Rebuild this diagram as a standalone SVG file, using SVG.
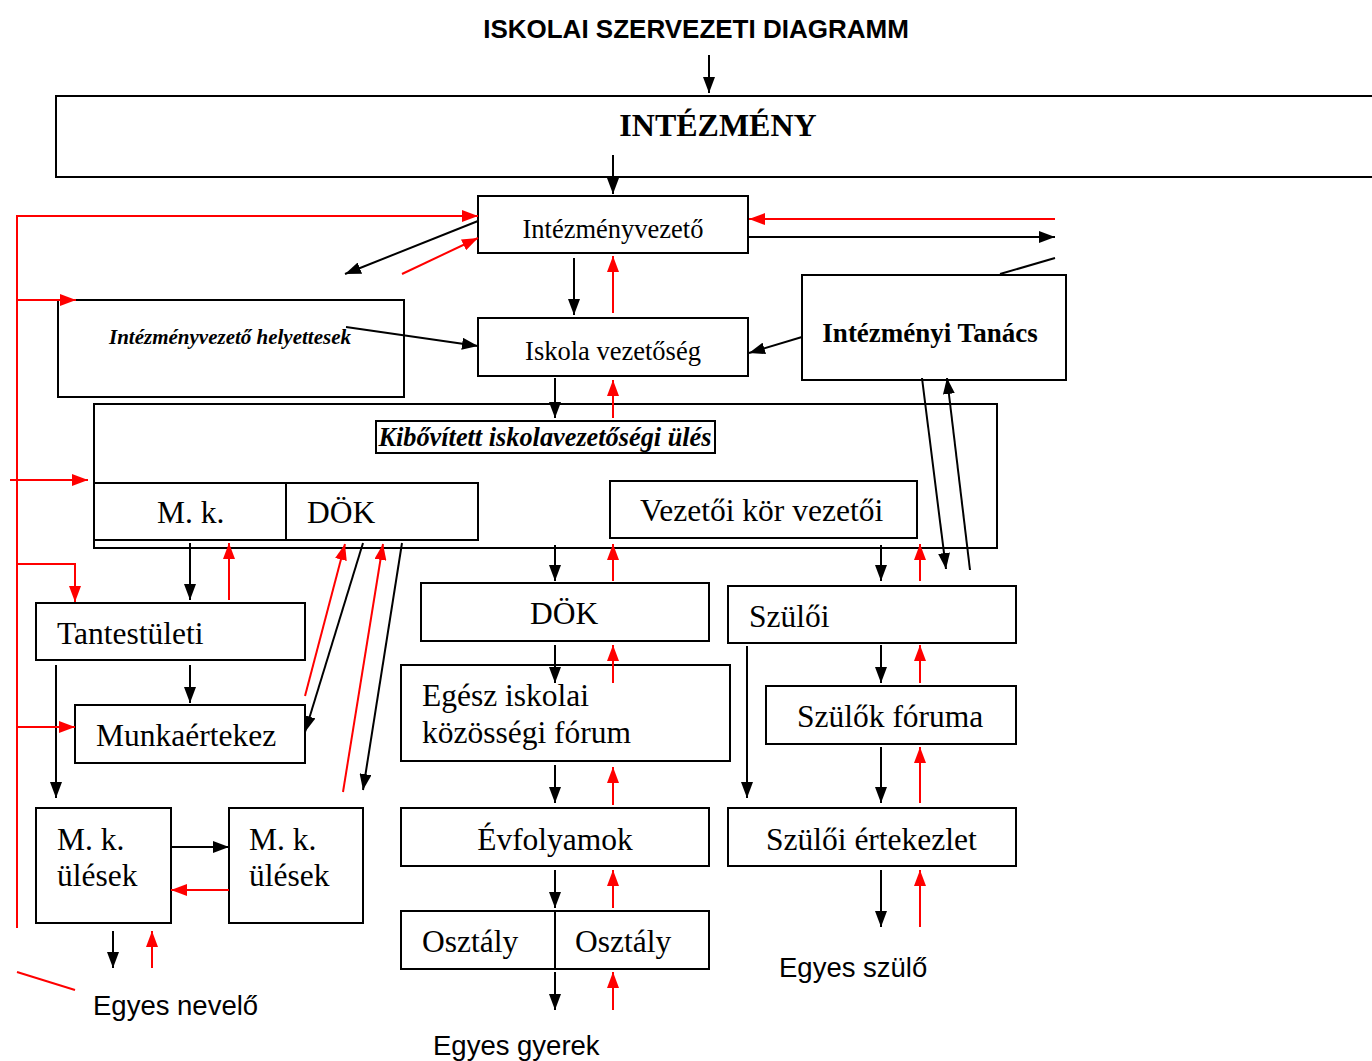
<svg xmlns="http://www.w3.org/2000/svg" width="1372" height="1061" viewBox="0 0 1372 1061">
<defs>
<style>
.box{fill:#fff;stroke:#000;stroke-width:2}
.t{font-family:"Liberation Serif","Times New Roman",serif;fill:#000}
.b{font-size:31.5px}
.s{font-family:"Liberation Sans",Arial,sans-serif;fill:#000;font-size:27.5px}
.k{stroke:#000;stroke-width:2;fill:none}
.r{stroke:#f00;stroke-width:2;fill:none}
.ka{stroke:#000;stroke-width:2;fill:none;marker-end:url(#mk)}
.ra{stroke:#f00;stroke-width:2;fill:none;marker-end:url(#mr)}
</style>
<marker id="mk" markerUnits="userSpaceOnUse" markerWidth="16" markerHeight="12" refX="16" refY="6" orient="auto"><path d="M0,0 L16,6 L0,12 z" fill="#000"/></marker>
<marker id="mr" markerUnits="userSpaceOnUse" markerWidth="16" markerHeight="12" refX="16" refY="6" orient="auto"><path d="M0,0 L16,6 L0,12 z" fill="#f00"/></marker>
</defs>
<rect width="1372" height="1061" fill="#fff"/>

<g id="title"><text class="s" x="696" y="38" font-size="26" font-weight="bold" text-anchor="middle" style="font-size:26px">ISKOLAI SZERVEZETI DIAGRAMM</text></g>

<g id="intezmeny"><rect class="box" x="56" y="96" width="1340" height="81"/><text class="t" x="718" y="136" font-size="32" font-weight="bold" text-anchor="middle">INTÉZMÉNY</text></g>

<g id="intezmenyvezeto"><rect class="box" x="478" y="196" width="270" height="57"/><text class="t" x="613" y="238" font-size="26.5" text-anchor="middle">Intézményvezető</text></g>

<g id="helyettesek"><rect class="box" x="58" y="300" width="346" height="97"/><text class="t" x="230" y="344" font-size="21" font-weight="bold" font-style="italic" text-anchor="middle">Intézményvezető helyettesek</text></g>

<g id="iskolavezetoseg"><rect class="box" x="478" y="318" width="270" height="58"/><text class="t" x="613" y="360" font-size="26.5" text-anchor="middle">Iskola vezetőség</text></g>

<g id="intezmenyi-tanacs"><rect class="box" x="802" y="275" width="264" height="105"/><text class="t" x="930" y="342" font-size="27" font-weight="bold" text-anchor="middle">Intézményi Tanács</text></g>

<g id="kibovitett"><rect class="box" x="94" y="404" width="903" height="144"/><rect class="box" x="376" y="421" width="339" height="32"/><text class="t" x="545" y="446" font-size="26.3" font-weight="bold" font-style="italic" text-anchor="middle">Kibővített iskolavezetőségi ülés</text></g>

<g id="mk-dok"><rect class="box" x="94" y="483" width="384" height="57"/><line class="k" x1="286" y1="483" x2="286" y2="540"/><text class="t b" x="157" y="523">M. k.</text><text class="t b" x="307" y="523">DÖK</text></g>

<g id="vezetoi-kor"><rect class="box" x="610" y="481" width="307" height="57"/><text class="t b" x="640" y="521">Vezetői kör vezetői</text></g>

<g id="tantestuleti"><rect class="box" x="36" y="603" width="269" height="57"/><text class="t b" x="57" y="644">Tantestületi</text></g>

<g id="munkaertekez"><rect class="box" x="75" y="705" width="230" height="58"/><text class="t b" x="96" y="746">Munkaértekez</text></g>

<g id="mk-ulesek-1"><rect class="box" x="36" y="808" width="135" height="115"/><text class="t b" x="57" y="850">M. k.</text><text class="t b" x="57" y="886">ülések</text></g>

<g id="mk-ulesek-2"><rect class="box" x="229" y="808" width="134" height="115"/><text class="t b" x="249" y="850">M. k.</text><text class="t b" x="249" y="886">ülések</text></g>

<g id="dok"><rect class="box" x="421" y="583" width="288" height="58"/><text class="t b" x="530" y="624">DÖK</text></g>

<g id="egesz-iskolai"><rect class="box" x="401" y="665" width="329" height="96"/><text class="t b" x="422" y="706">Egész iskolai</text><text class="t b" x="422" y="743">közösségi fórum</text></g>

<g id="evfolyamok"><rect class="box" x="401" y="808" width="308" height="58"/><text class="t b" x="555" y="850" text-anchor="middle">Évfolyamok</text></g>

<g id="osztaly"><rect class="box" x="401" y="911" width="308" height="58"/><line class="k" x1="555" y1="911" x2="555" y2="969"/><text class="t b" x="422" y="952">Osztály</text><text class="t b" x="575" y="952">Osztály</text></g>

<g id="szuloi"><rect class="box" x="728" y="586" width="288" height="57"/><text class="t b" x="749" y="627">Szülői</text></g>

<g id="szulok-foruma"><rect class="box" x="766" y="686" width="250" height="58"/><text class="t b" x="797" y="727">Szülők fóruma</text></g>

<g id="szuloi-ertekezlet"><rect class="box" x="728" y="808" width="288" height="58"/><text class="t b" x="766" y="850">Szülői értekezlet</text></g>

<g id="labels">
<text class="s" x="93" y="1015">Egyes nevelő</text>
<text class="s" x="433" y="1055">Egyes gyerek</text>
<text class="s" x="779" y="977">Egyes szülő</text>
</g>

<g id="connectors">
<line class="ka" x1="709" y1="55" x2="709" y2="93"/>
<line class="ka" x1="613" y1="155" x2="613" y2="194"/>
<polyline class="r" points="17,928 17,216 462,216"/>
<line class="ra" x1="17" y1="216" x2="478" y2="216"/>
<line class="ka" x1="478" y1="221" x2="345" y2="274"/>
<line class="ra" x1="402" y1="274" x2="478" y2="238"/>
<line class="ra" x1="1055" y1="219" x2="749" y2="219"/>
<line class="ka" x1="748" y1="237" x2="1055" y2="237"/>
<line class="k" x1="1000" y1="274" x2="1055" y2="258"/>
<line class="ra" x1="17" y1="300" x2="76" y2="300"/>
<line class="ka" x1="574" y1="258" x2="574" y2="315"/>
<line class="ra" x1="613" y1="313" x2="613" y2="256"/>
<line class="ka" x1="346" y1="327" x2="478" y2="346"/>
<line class="ka" x1="802" y1="337" x2="749" y2="353"/>
<line class="ka" x1="555" y1="378" x2="555" y2="418"/>
<line class="ra" x1="613" y1="418" x2="613" y2="380"/>
<line class="ka" x1="922" y1="378" x2="946" y2="569"/>
<line class="ka" x1="970" y1="570" x2="947" y2="378"/>
<line class="ra" x1="10" y1="480" x2="88" y2="480"/>
<line class="ka" x1="190" y1="543" x2="190" y2="600"/>
<line class="ra" x1="229" y1="600" x2="229" y2="543"/>
<polyline class="ra" points="17,564 75,564 75,602"/>
<line class="ra" x1="305" y1="696" x2="345" y2="544"/>
<line class="ka" x1="363" y1="543" x2="305" y2="732"/>
<line class="ra" x1="343" y1="792" x2="383" y2="544"/>
<line class="ka" x1="402" y1="543" x2="363" y2="790"/>
<line class="ka" x1="555" y1="545" x2="555" y2="581"/>
<line class="ra" x1="613" y1="581" x2="613" y2="544"/>
<line class="ka" x1="881" y1="545" x2="881" y2="581"/>
<line class="ra" x1="920" y1="581" x2="920" y2="544"/>
<line class="ka" x1="190" y1="665" x2="190" y2="703"/>
<line class="ka" x1="56" y1="665" x2="56" y2="798"/>
<line class="ra" x1="17" y1="727" x2="75" y2="727"/>
<line class="ka" x1="555" y1="645" x2="555" y2="683"/>
<line class="ra" x1="613" y1="683" x2="613" y2="645"/>
<line class="ka" x1="881" y1="645" x2="881" y2="683"/>
<line class="ra" x1="920" y1="683" x2="920" y2="645"/>
<line class="ka" x1="747" y1="646" x2="747" y2="798"/>
<line class="ka" x1="555" y1="765" x2="555" y2="803"/>
<line class="ra" x1="613" y1="805" x2="613" y2="767"/>
<line class="ka" x1="881" y1="747" x2="881" y2="803"/>
<line class="ra" x1="920" y1="803" x2="920" y2="747"/>
<line class="ka" x1="171" y1="847" x2="229" y2="847"/>
<line class="ra" x1="229" y1="890" x2="171" y2="890"/>
<line class="ka" x1="113" y1="931" x2="113" y2="968"/>
<line class="ra" x1="152" y1="968" x2="152" y2="931"/>
<line class="r" x1="17" y1="972" x2="75" y2="990"/>
<line class="ka" x1="555" y1="870" x2="555" y2="908"/>
<line class="ra" x1="613" y1="908" x2="613" y2="870"/>
<line class="ka" x1="555" y1="972" x2="555" y2="1010"/>
<line class="ra" x1="613" y1="1010" x2="613" y2="972"/>
<line class="ka" x1="881" y1="870" x2="881" y2="927"/>
<line class="ra" x1="920" y1="927" x2="920" y2="870"/>
</g>
</svg>
